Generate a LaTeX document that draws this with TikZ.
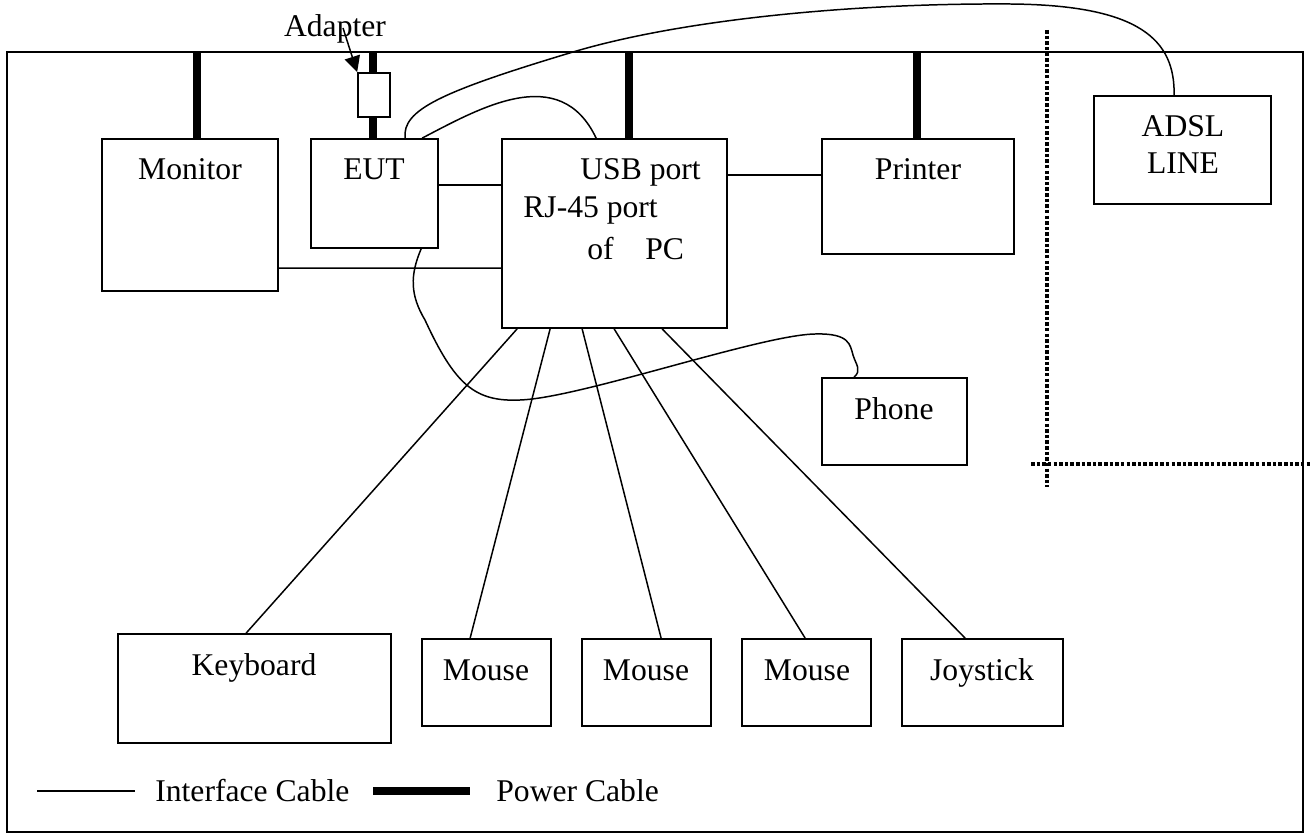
\documentclass[tikz,border=0pt]{standalone}
\usepackage{fontspec}
\setmainfont{Liberation Serif}
\usetikzlibrary{calc,fit,arrows.meta}

\tikzset{
  box/.style={draw, line width=1pt, inner sep=0pt},
  cable/.style={line width=0.85pt},
  power/.style={line width=4.3pt},
  sep/.style={line width=2.1pt, dash pattern=on 2pt off 1.2pt},
  txt/.style={inner sep=0pt, font=\fontsize{18}{21}\selectfont},
}

\begin{document}
\begin{tikzpicture}[x=0.02cm, y=-0.02cm]
  \useasboundingbox (0,0) rectangle (1310,834);
  \node[box, fit={(7,52) (1303,832)}] (frame) {};

  % boxes
  \node[box, fit={(102,139) (278,291)}] (monitor) {};
  \node[box, fit={(311,139) (438,248)}] (eut) {};
  \node[box, fit={(502,139) (727,328)}] (pc) {};
  \node[box, fit={(822,139) (1014,254)}] (printer) {};
  \node[box, fit={(1094,96) (1271,204)}] (adsl) {};
  \node[box, fit={(822,378) (967,465)}] (phone) {};
  \node[box, fit={(118,634) (391,743)}] (keyboard) {};
  \node[box, fit={(422,639) (551,726)}] (mouse1) {};
  \node[box, fit={(582,639) (711,726)}] (mouse2) {};
  \node[box, fit={(742,639) (871,726)}] (mouse3) {};
  \node[box, fit={(902,639) (1063,726)}] (joystick) {};

  % power cables
  \foreach \dev/\dx in {monitor/96, eut/63, pc/128, printer/96}
    \draw[power] ($(\dev.north west)+(\dx,0)$) coordinate (p) -- (p |- frame.north);
  \node[box, fill=white, fit={(358,73) (390,117)}] (adapter) {};

  % interface cables
  \draw[cable] ($(eut.north east)+(0,47)$) -- ($(pc.north west)+(0,47)$);
  \draw[cable] ($(monitor.north east)+(0,130)$) -- ($(pc.north west)+(0,130)$);
  \draw[cable] ($(pc.north east)+(0,37)$) -- ($(printer.north west)+(0,37)$);
  \foreach \dev/\a/\b in {keyboard/16/129, mouse1/49/49, mouse2/81/80, mouse3/113/64, joystick/161/64}
    \draw[cable] ($(pc.south west)+(\a,0)$) -- ($(\dev.north west)+(\b,0)$);

  % curved cables
  \coordinate (eutA) at ($(eut.north west)+(95,0)$);
  \coordinate (adslA) at ($(adsl.north west)+(81,0)$);
  \draw[cable] (eutA) .. controls (402,110) and (440,92) .. (573,52)
    .. controls (680,20) and (850,3) .. (1010,4)
    .. controls (1140,5) and (1175,40) .. (adslA);
  \coordinate (eutB) at ($(eut.north west)+(112,0)$);
  \coordinate (pcB) at ($(pc.north west)+(95,0)$);
  \draw[cable] (eutB) .. controls (480,108) and (560,62) .. (pcB);
  \coordinate (eutC) at ($(eut.south west)+(111,0)$);
  \coordinate (phoneC) at ($(phone.north west)+(33,0)$);
  \draw[cable] (eutC) .. controls (410,275) and (410,295) .. (425,320)
    .. controls (455,385) and (475,402) .. (520,400)
    .. controls (580,398) and (760,335) .. (815,334)
    .. controls (850,333) and (850,345) .. (853,355)
    .. controls (856,365) and (862,370) .. (phoneC);

  % dotted borders
  \draw[sep] (1047,30) -- (1047,487);
  \draw[sep] (1031,464) -- (1310,464);

  % labels
  \node[txt, anchor=base] (adaptertext) at (335,37) {Adapter};
  \draw[cable, -{Triangle[length=9pt, width=9pt]}] ($(adaptertext.base)+(8,-9)$) -- (adapter.north west);
  \node[txt, anchor=base] (monitortext) at (190,180) {Monitor};
  \node[txt, anchor=base] (euttext) at (374,180) {EUT};
  \node[txt, anchor=base west] (usbtext) at (580,180) {USB port};
  \node[txt, anchor=base west] (rjtext) at (523,218) {RJ-45 port};
  \node[txt, anchor=base west] (pctext) at (587,259) {of\quad PC};
  \node[txt, anchor=base] (printertext) at (918,180) {Printer};
  \node[txt, anchor=base] (adsltext) at (1183,137) {ADSL};
  \node[txt, anchor=base] (linetext) at (1183,174) {LINE};
  \node[txt, anchor=base] (phonetext) at (894,419) {Phone};
  \node[txt, anchor=base] (keyboardtext) at (254,675) {Keyboard};
  \node[txt, anchor=base] (mouse1text) at (486,680) {Mouse};
  \node[txt, anchor=base] (mouse2text) at (646,680) {Mouse};
  \node[txt, anchor=base] (mouse3text) at (807,680) {Mouse};
  \node[txt, anchor=base] (joysticktext) at (982,680) {Joystick};

  % legend
  \coordinate (l1) at (37,791);
  \coordinate (l2) at (135,791);
  \draw[cable] (l1) -- (l2);
  \node[txt, anchor=base west] (interfacetext) at (155,801) {Interface Cable};
  \coordinate (l3) at (373,791);
  \coordinate (l4) at (470,791);
  \draw[line width=4.5pt] (l3) -- (l4);
  \node[txt, anchor=base west] (powertext) at (496,801) {Power Cable};
\end{tikzpicture}
\end{document}
